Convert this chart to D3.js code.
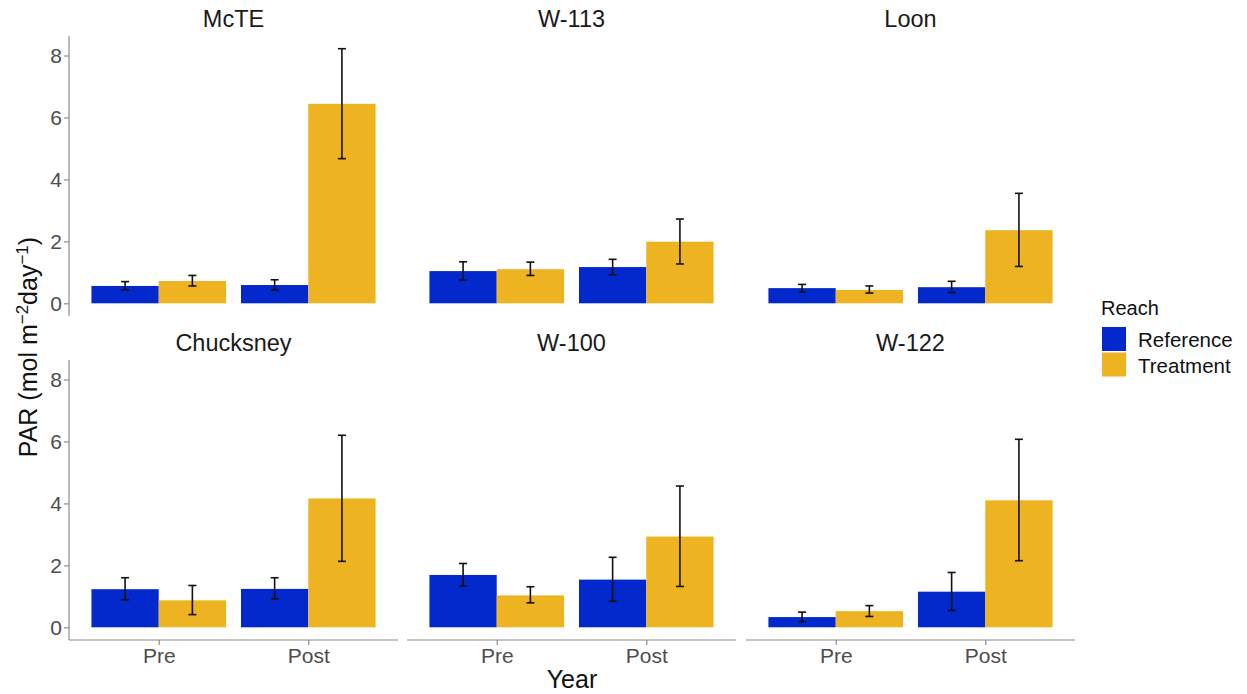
<!DOCTYPE html>
<html>
<head>
  <meta charset="UTF-8">
  <title>PAR by reach</title>
  <script src="https://d3js.org/d3.v7.min.js"></script>
  <style>
    body { margin: 0; background: #fff; }
    svg { font-family: "Liberation Sans", Arial, sans-serif; }
    .tick text { fill: #4d4d4d; font-size: 21px; }
    .tick line, .domain { stroke: #8c8c8c; stroke-width: 1.2px; }
  </style>
</head>
<body>
  <svg id="chart" width="1247" height="694"></svg>

  <script>
    // data
    var sites = ["McTE", "W-113", "Loon", "Chucksney", "W-100", "W-122"];
    var years = ["Pre", "Post"];
    var reaches = ["Reference", "Treatment"];
    // order per site: Pre-Ref, Pre-Trt, Post-Ref, Post-Trt
    var means = [
      [0.56, 0.72, 0.59, 6.44],
      [1.04, 1.10, 1.17, 1.99],
      [0.49, 0.43, 0.52, 2.36],
      [1.23, 0.87, 1.24, 4.16],
      [1.69, 1.03, 1.54, 2.93],
      [0.33, 0.52, 1.15, 4.10]
    ];
    var lower = [
      [0.43, 0.56, 0.43, 4.67],
      [0.75, 0.90, 0.92, 1.27],
      [0.37, 0.33, 0.35, 1.19],
      [0.89, 0.41, 0.92, 2.13],
      [1.33, 0.79, 0.84, 1.32],
      [0.18, 0.35, 0.54, 2.15]
    ];
    var upper = [
      [0.70, 0.90, 0.76, 8.22],
      [1.34, 1.33, 1.42, 2.72],
      [0.61, 0.56, 0.71, 3.55],
      [1.60, 1.35, 1.60, 6.20],
      [2.06, 1.31, 2.26, 4.56],
      [0.49, 0.70, 1.77, 6.07]
    ];
    var yTicks = [0, 2, 4, 6, 8];
    var colors = { "Reference": "#0328CC", "Treatment": "#EDB321" };

    var svg = d3.select("#chart");

    var colX = [69, 407, 746];
    var panelW = 329;
    var rowY = [36, 360];
    var panelH = 280;

    var rows = [];
    sites.forEach(function(s, i) {
      years.forEach(function(y, yi) {
        reaches.forEach(function(r, ri) {
          var k = yi * 2 + ri;
          rows.push({ site: s, year: y, reach: r, mean: means[i][k], lo: lower[i][k], hi: upper[i][k] });
        });
      });
    });

    sites.forEach(function(site, i) {
      var col = i % 3, row = Math.floor(i / 3);
      var x0 = colX[col], y0 = rowY[row];

      var x = d3.scalePoint().domain(years).range([x0, x0 + panelW]).padding(0.6);
      var step = x.step();
      var xr = d3.scaleBand().domain(reaches).range([-0.45 * step, 0.45 * step]);
      var y = d3.scaleLinear().domain([-0.41, 8.63]).range([y0 + panelH, y0]);

      var g = svg.append("g");
      var d = rows.filter(function(r) { return r.site === site; });

      g.selectAll("rect.bar")
        .data(d)
        .enter()
        .append("rect")
        .attr("class", "bar")
        .attr("x", function(r) { return x(r.year) + xr(r.reach); })
        .attr("y", function(r) { return y(r.mean); })
        .attr("width", xr.bandwidth())
        .attr("height", function(r) { return y(0) - y(r.mean); })
        .attr("fill", function(r) { return colors[r.reach]; });

      // error bars
      var eb = g.selectAll("g.err")
        .data(d)
        .enter()
        .append("g")
        .attr("class", "err")
        .attr("stroke", "#111")
        .attr("stroke-width", 1.6);
      var cx = function(r) { return x(r.year) + xr(r.reach) + xr.bandwidth() / 2; };
      eb.append("line")
        .attr("x1", cx).attr("x2", cx)
        .attr("y1", function(r) { return y(r.lo); })
        .attr("y2", function(r) { return y(r.hi); });
      eb.append("line")
        .attr("x1", function(r) { return cx(r) - 4; }).attr("x2", function(r) { return cx(r) + 4; })
        .attr("y1", function(r) { return y(r.lo); }).attr("y2", function(r) { return y(r.lo); });
      eb.append("line")
        .attr("x1", function(r) { return cx(r) - 4; }).attr("x2", function(r) { return cx(r) + 4; })
        .attr("y1", function(r) { return y(r.hi); }).attr("y2", function(r) { return y(r.hi); });

      // strip title
      svg.append("text")
        .attr("x", x0 + panelW / 2)
        .attr("y", y0 - 9)
        .attr("text-anchor", "middle")
        .attr("font-size", "23.5px")
        .attr("fill", "#1a1a1a")
        .text(site);

      if (col === 0) {
        var ya = svg.append("g")
          .attr("transform", "translate(" + x0 + ",0)")
          .call(d3.axisLeft(y).tickValues(yTicks).tickSize(5).tickPadding(2).tickSizeOuter(0));
        ya.select(".domain").attr("d", "M0," + (y0 + panelH) + "V" + y0);
      }
      if (row === 1) {
        var xa = svg.append("g")
          .attr("transform", "translate(0," + (y0 + panelH) + ")")
          .call(d3.axisBottom(x).tickSize(5).tickPadding(3).tickSizeOuter(0));
        xa.select(".domain").attr("d", "M" + x0 + ",0H" + (x0 + panelW));
      }
    });

    // axis titles
    svg.append("text")
      .attr("x", 572)
      .attr("y", 688)
      .attr("text-anchor", "middle")
      .attr("font-size", "25px")
      .attr("fill", "#111")
      .text("Year");

    var yl = svg.append("text")
      .attr("transform", "translate(37,347) rotate(-90)")
      .attr("text-anchor", "middle")
      .attr("font-size", "25px")
      .attr("fill", "#111");
    yl.append("tspan").text("PAR (mol m");
    yl.append("tspan").attr("dy", -9).attr("font-size", "17px").text("\u22122");
    yl.append("tspan").attr("dy", 9).text("day");
    yl.append("tspan").attr("dy", -9).attr("font-size", "17px").text("\u22121");
    yl.append("tspan").attr("dy", 9).text(")");

    // legend
    var lg = svg.append("g").attr("transform", "translate(1100,0)");
    lg.append("text")
      .attr("x", 1).attr("y", 315)
      .attr("font-size", "20px").attr("fill", "#111")
      .text("Reach");
    lg.selectAll("rect.key")
      .data(reaches)
      .enter()
      .append("rect")
      .attr("x", 2)
      .attr("y", function(r, i) { return 327 + i * 25.5; })
      .attr("width", 24)
      .attr("height", 24)
      .attr("fill", function(r) { return colors[r]; });
    lg.selectAll("text.key")
      .data(reaches)
      .enter()
      .append("text")
      .attr("x", 38)
      .attr("y", function(r, i) { return 347 + i * 25.5; })
      .attr("font-size", "20.5px")
      .attr("fill", "#111")
      .text(function(r) { return r; });
  </script>
</body>
</html>
